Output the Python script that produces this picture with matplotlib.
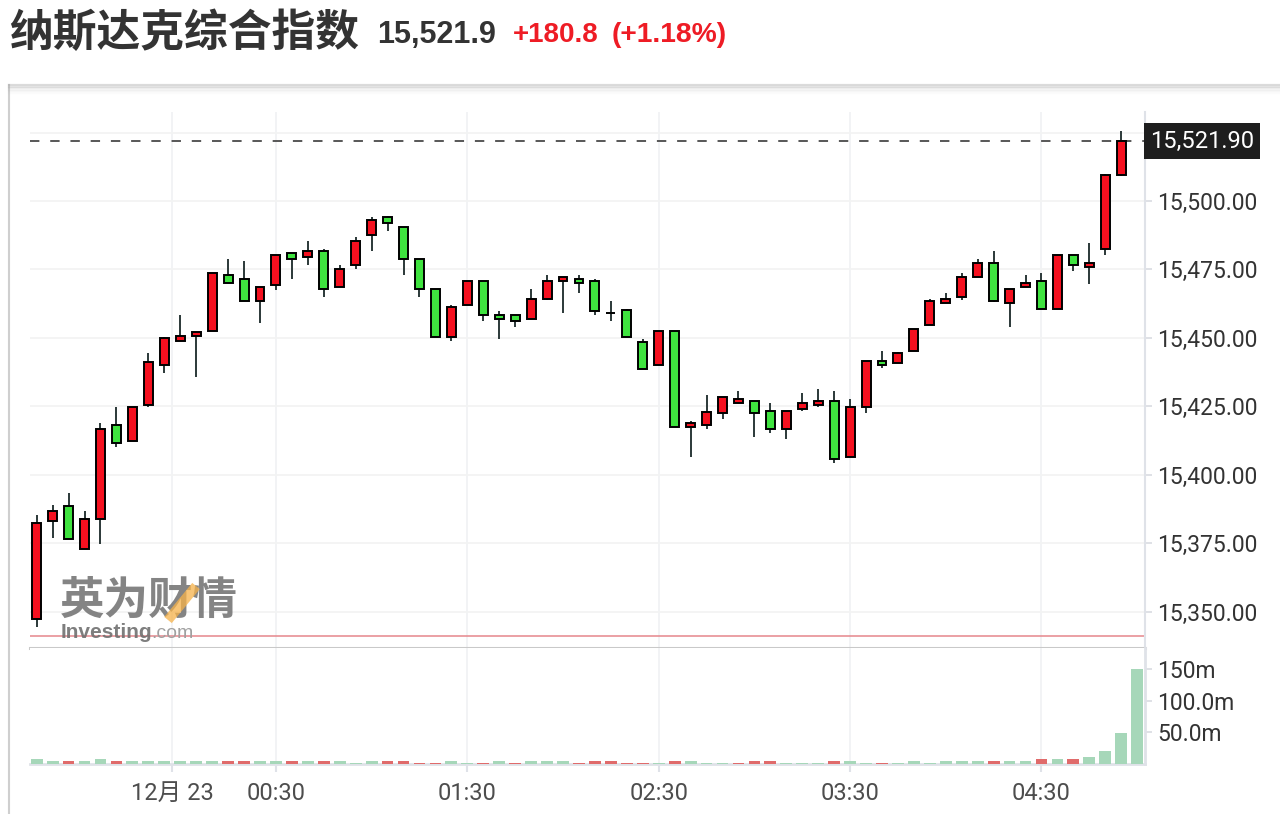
import matplotlib
matplotlib.use("Agg")
import matplotlib.pyplot as plt
import matplotlib.transforms as mtransforms
from matplotlib.lines import Line2D

# ---------------- data ----------------
title = "纳斯达克综合指数"
last_price_text = "15,521.9"
change_text = "+180.8"
change_pct_text = "(+1.18%)"
prev_close = 15341.1

opens = [15347.3, 15383.1, 15388.4, 15372.8, 15383.9, 15418.3, 15412.3, 15425.4, 15440.1, 15448.9,
         15450.5, 15452.5, 15473.1, 15471.6, 15463.5, 15469.3, 15481.1, 15479.7, 15481.9, 15468.5,
         15476.5, 15487.5, 15494.3, 15490.6, 15478.9, 15468.0, 15450.3, 15462.0, 15470.9, 15458.5,
         15458.5, 15456.8, 15464.1, 15470.8, 15471.6, 15470.9, 15459.2, 15460.2, 15448.4, 15440.1,
         15452.5, 15417.5, 15418.2, 15422.4, 15426.1, 15427.1, 15423.4, 15416.6, 15423.9, 15425.4,
         15427.0, 15406.4, 15424.9, 15441.6, 15440.8, 15445.2, 15454.7, 15462.6, 15464.8, 15472.2,
         15477.5, 15462.7, 15468.5, 15470.9, 15460.6, 15480.4, 15476.0, 15482.5, 15509.4]
highs = [15385.2, 15389.0, 15393.5, 15386.8, 15418.8, 15424.9, 15424.9, 15444.6, 15450.2, 15458.4,
         15452.0, 15473.8, 15478.8, 15478.1, 15468.7, 15480.4, 15481.1, 15485.4, 15482.3, 15476.5,
         15486.7, 15494.0, 15494.6, 15490.6, 15478.9, 15468.0, 15461.9, 15470.9, 15470.9, 15459.7,
         15458.5, 15467.8, 15473.0, 15472.4, 15473.0, 15471.4, 15463.5, 15460.7, 15449.6, 15452.5,
         15452.5, 15419.5, 15429.1, 15428.5, 15430.6, 15427.1, 15426.2, 15423.4, 15429.9, 15431.3,
         15430.6, 15427.7, 15441.7, 15445.2, 15445.0, 15453.4, 15464.1, 15466.4, 15473.8, 15478.8,
         15481.7, 15468.0, 15473.0, 15473.7, 15480.4, 15480.4, 15484.5, 15510.0, 15525.6]
lows = [15344.5, 15376.8, 15376.6, 15372.8, 15374.6, 15410.3, 15412.3, 15424.9, 15437.3, 15448.9,
        15435.8, 15452.5, 15470.1, 15463.5, 15455.6, 15467.3, 15471.6, 15476.7, 15465.1, 15468.5,
        15475.3, 15481.9, 15489.2, 15473.1, 15465.1, 15450.3, 15449.0, 15462.0, 15456.3, 15449.6,
        15454.1, 15456.8, 15463.7, 15459.2, 15466.5, 15458.5, 15456.3, 15450.4, 15438.7, 15440.1,
        15417.5, 15406.6, 15416.8, 15420.5, 15426.1, 15413.9, 15415.4, 15413.2, 15423.4, 15424.9,
        15404.4, 15406.4, 15422.7, 15438.9, 15440.8, 15445.2, 15454.7, 15462.6, 15463.8, 15472.2,
        15463.2, 15454.1, 15468.5, 15460.6, 15460.6, 15474.6, 15469.6, 15480.4, 15509.0]
closes = [15382.5, 15386.9, 15376.6, 15384.0, 15416.8, 15411.6, 15424.9, 15441.0, 15449.8, 15450.5,
          15452.0, 15473.8, 15470.1, 15463.5, 15468.7, 15480.4, 15478.8, 15481.9, 15467.7, 15475.3,
          15485.5, 15492.9, 15491.8, 15478.8, 15467.7, 15450.3, 15461.4, 15470.9, 15458.4, 15456.9,
          15456.1, 15464.3, 15470.9, 15472.4, 15469.9, 15459.7, 15459.2, 15450.4, 15438.7, 15452.5,
          15417.5, 15419.0, 15422.8, 15428.5, 15427.8, 15422.4, 15416.6, 15423.4, 15426.3, 15427.0,
          15405.8, 15424.9, 15441.7, 15440.0, 15444.6, 15453.4, 15463.6, 15464.3, 15472.4, 15477.5,
          15463.4, 15468.0, 15470.2, 15460.6, 15480.4, 15476.6, 15477.5, 15509.6, 15521.9]

# volume in millions (70 bars, last bar has no drawn candle)
volumes = [7.9, 4.7, 4.7, 4.7, 7.9, 4.7, 4.7, 4.7, 4.7, 4.7,
           4.7, 4.7, 4.7, 4.7, 4.7, 4.7, 4.7, 4.7, 4.7, 4.7,
           1.6, 4.7, 4.7, 4.7, 1.6, 1.6, 4.7, 1.6, 1.6, 4.7,
           1.6, 4.7, 4.7, 4.7, 1.6, 4.7, 4.7, 1.6, 1.6, 1.6,
           4.7, 4.7, 1.6, 1.6, 1.6, 4.7, 4.7, 1.6, 1.6, 1.6,
           4.7, 4.7, 1.6, 1.6, 1.6, 4.7, 1.6, 4.7, 4.7, 4.7,
           4.7, 4.7, 4.7, 8.2, 8.2, 8.2, 11.0, 20.5, 49.0, 150.0]
vol_up = "GGRGGRGGGGGGRRGGRGRGGGRRRRGGRGRGGGRRRRRGRGGGRRRGGGRGGRGGGGGGRGGRGRGGGG"

price_ticks = [15350, 15375, 15400, 15425, 15450, 15475, 15500, 15525]
vol_ticks = [50, 100, 150]
vol_tick_labels = ["50.0m", "100.0m", "150m"]
time_tick_pos = [8.5, 15, 27, 39, 51, 63]
time_tick_labels = ["12月 23", "00:30", "01:30", "02:30", "03:30", "04:30"]

# ---------------- style ----------------
RED = "#f5101f"
GREEN = "#3fe33f"
VRED = "#e06b6b"
VGREEN = "#a6d7b9"
WICK = "#2b3838"
LABEL_FONT = ["Roboto", "Noto Sans CJK SC", "DejaVu Sans"]
LSIZE = 16.5

W, H = 1280, 814
fig = plt.figure(figsize=(W / 100, H / 100), dpi=100)
fig.patch.set_facecolor("white")

def fx(px):
    return px / W

def fy(py):
    return 1 - py / H

left, right = 30, 1145
ax = fig.add_axes([fx(left), fy(648), fx(right - left), (648 - 112) / H])
axv = fig.add_axes([fx(left), fy(764), fx(right - left), (764 - 648) / H])

xlim = (-0.42, 69.49)

# ---------- candles ----------
n = len(opens)
xs = list(range(n))
ax.vlines(xs, lows, highs, color=WICK, linewidth=1.4, zorder=3)
body_h = [c - o for o, c in zip(opens, closes)]
cols = [RED if c >= o else GREEN for o, c in zip(opens, closes)]
ax.bar(xs, body_h, bottom=opens, width=0.56, color=cols, edgecolor="black",
       linewidth=1.4, zorder=4)

ax.set_xlim(*xlim)
ax.set_ylim(15336.7, 15532.5)
ax.yaxis.tick_right()
ax.set_yticks(price_ticks)
ax.set_yticklabels([f"{v:,.2f}" for v in price_ticks])
ax.tick_params(axis="y", length=5, width=1.2, color="#d9dce2", pad=4,
               labelsize=LSIZE, labelcolor="#333333")
for lab in ax.get_yticklabels():
    lab.set_fontfamily(LABEL_FONT)
ax.set_xticks(time_tick_pos)
ax.tick_params(axis="x", length=0, labelbottom=False)
ax.grid(True, axis="y", color="#f3f3f3", linewidth=1.3, zorder=0)
ax.grid(True, axis="x", color="#f1f2f4", linewidth=1.3, zorder=0)
ax.set_axisbelow(True)
for s in ["top", "left"]:
    ax.spines[s].set_visible(False)
ax.spines["right"].set_color("#dfe2e8")
ax.spines["right"].set_linewidth(1.5)
ax.spines["bottom"].set_color("#c9c9c9")
ax.spines["bottom"].set_linewidth(2.2)

# previous close line & last price line
ax.axhline(prev_close, color="#e5868c", linewidth=1.1, zorder=2)
ax.axhline(closes[-1], color="#4a4a4a", linewidth=1.3, linestyle=(0, (5.2, 6.0)), zorder=2)
trans = mtransforms.blended_transform_factory(ax.transAxes, ax.transData)
ax.text(1.0045, closes[-1], f"{closes[-1]:,.2f}", transform=trans, ha="left", va="center",
        fontsize=17, color="white", family=LABEL_FONT, zorder=10,
        bbox=dict(boxstyle="square,pad=0.26", fc="#1e1e1e", ec="none"))

# ---------- volume ----------
vx = list(range(len(volumes)))
vcols = [VGREEN if f == "G" else VRED for f in vol_up]
axv.bar(vx, volumes, width=0.74, color=vcols, zorder=3)
axv.set_xlim(*xlim)
axv.set_ylim(0, 183)
axv.yaxis.tick_right()
axv.set_yticks(vol_ticks)
axv.set_yticklabels(vol_tick_labels)
axv.tick_params(axis="y", length=5, width=1.2, color="#d9dce2", pad=4,
                labelsize=LSIZE, labelcolor="#333333")
axv.set_xticks(time_tick_pos)
axv.set_xticklabels(time_tick_labels)
axv.tick_params(axis="x", length=6, width=1.5, color="#dfe2e8", pad=7,
                labelsize=17, labelcolor="#4d4d4d")
for lab in axv.get_yticklabels() + axv.get_xticklabels():
    lab.set_fontfamily(LABEL_FONT)
axv.grid(True, axis="x", color="#f1f2f4", linewidth=1.3, zorder=0)
axv.set_axisbelow(True)
for s in ["top", "left"]:
    axv.spines[s].set_visible(False)
for s in ["right", "bottom"]:
    axv.spines[s].set_color("#dfe2e8")
    axv.spines[s].set_linewidth(2)

# ---------- frame ----------
fig.add_artist(Line2D([fx(9), fx(9)], [fy(85), 0], color="#cfcfcf", linewidth=1.5))
for k, a in enumerate([0.35, 0.22, 0.14, 0.09, 0.05, 0.03]):
    fig.add_artist(Line2D([fx(9), 1], [fy(85 + k * 1.6), fy(85 + k * 1.6)],
                          color="#9a9a9a", alpha=a, linewidth=1.6))

# ---------- header ----------
fig.text(fx(9), fy(33), title, fontsize=31.5, fontweight="bold", color="#333333",
         family=["Noto Sans CJK SC", "DejaVu Sans"], va="center", ha="left")
fig.text(fx(377), fy(35), last_price_text, fontsize=22, fontweight="bold", color="#333333",
         family=["Liberation Sans"], va="center", ha="left")
fig.text(fx(513), fy(35), change_text, fontsize=20, fontweight="bold", color="#ee1c25",
         family=["Liberation Sans"], va="center", ha="left")
fig.text(fx(612), fy(35), change_pct_text, fontsize=20.3, fontweight="bold", color="#ee1c25",
         family=["Liberation Sans"], va="center", ha="left")

# ---------- watermark ----------
fig.text(fx(60), fy(601), "英为财情", fontsize=32, fontweight="bold", color="#6f6f6f",
         alpha=0.85, family=["Noto Sans CJK SC"], va="center", ha="left", zorder=1)
fig.add_artist(Line2D([fx(168), fx(196)], [fy(620), fy(586)], color="#f6b24a",
                      alpha=0.75, linewidth=7, solid_capstyle="butt"))
fig.text(fx(61), fy(633), "Investing", fontsize=15, fontweight="bold", color="#707070",
         alpha=0.9, family=["Liberation Sans"], va="center", ha="left")
fig.text(fx(151), fy(634), ".com", fontsize=14, color="#a0a0a0",
         family=["Liberation Sans"], va="center", ha="left")

fig.savefig("out.png", dpi=100, facecolor="white")
